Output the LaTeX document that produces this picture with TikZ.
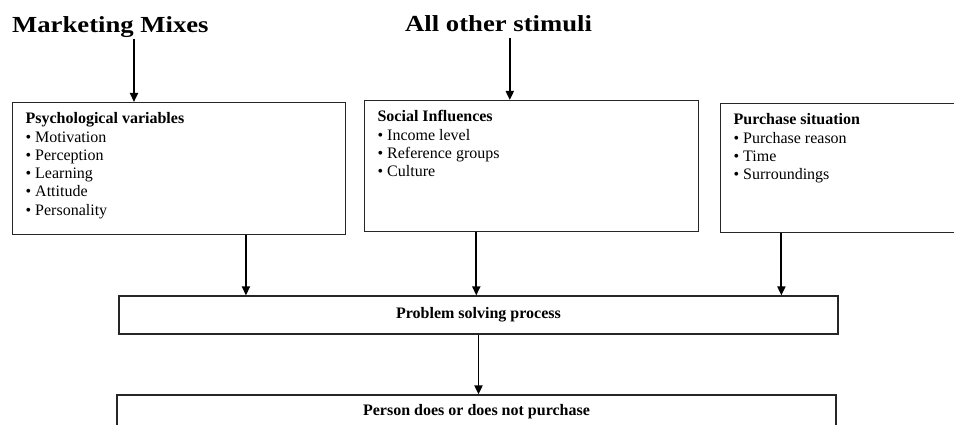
\documentclass[tikz,border=0pt]{standalone}
\usepackage{fontspec}
\setmainfont{Liberation Serif}
\usepackage{graphicx}
\usetikzlibrary{arrows.meta,calc}
\tikzset{
  catbox/.style  = {rectangle, draw=black!85, line width=1.2pt, anchor=north west,
                    inner xsep=13pt, inner ysep=10pt, font=\fontsize{16}{18.3}\selectfont},
  procbox/.style = {rectangle, draw=black!85, line width=1.2pt, inner sep=0pt,
                    minimum width=719pt, font=\bfseries\fontsize{16}{19}\selectfont},
  stim/.style    = {inner sep=0pt, anchor=base west, text depth=6pt,
                    font=\bfseries\fontsize{23}{27}\selectfont},
  ar/.style      = {-{Triangle[length=9pt,width=8pt]}, draw=black, line width=1.8pt}
}
\newcommand{\catbody}[3]{\parbox[t][#2][t]{#1}{#3}}

\begin{document}
\begin{tikzpicture}[x=1pt,y=-1pt]
    \useasboundingbox (0,0) rectangle (954,425);
    \clip (0,0) rectangle (954,425);
    \node[stim] (mkt) at (12,33) {\scalebox{1.16}[1]{Marketing Mixes}};
    \node[stim] (other) at (405,32) {\scalebox{1.16}[1]{All other stimuli}};
    \node[catbox] (psych) at (12,102) {\catbody{307pt}{112pt}{\textbf{Psychological variables}\\
      \textbullet\ Motivation\\ \textbullet\ Perception\\ \textbullet\ Learning\\
      \textbullet\ Attitude\\ \textbullet\ Personality}};
    \node[catbox] (social) at (364,100) {\catbody{308pt}{111pt}{\textbf{Social Influences}\\
      \textbullet\ Income level\\ \textbullet\ Reference groups\\ \textbullet\ Culture}};
    \node[catbox] (situ) at (720,103) {\catbody{234pt}{109pt}{\textbf{Purchase situation}\\
      \textbullet\ Purchase reason\\ \textbullet\ Time\\ \textbullet\ Surroundings}};
    \node[procbox, minimum height=38pt] (proc) at (478.5,315) {Problem solving process};
    \node[procbox, minimum height=34pt] (person) at (476.5,412) {Person does or does not purchase};
    % arrow feet
    \coordinate (mktfoot) at ($(mkt.south west)!0.62!(mkt.south east)$);
    \coordinate (otherfoot) at ($(other.south west)!0.56!(other.south east)$);
    \coordinate (psychfoot) at ($(psych.south west)!0.70!(psych.south east)$);
    \coordinate (socialfoot) at ($(social.south west)!0.335!(social.south east)$);
    \coordinate (situfoot) at ($(situ.south west)!0.235!(situ.south east)$);
    \draw[ar] (mktfoot) -- (mktfoot |- psych.north);
    \draw[ar] (otherfoot) -- (otherfoot |- social.north);
    \draw[ar] (psychfoot) -- (psychfoot |- proc.north);
    \draw[ar] (socialfoot) -- (socialfoot |- proc.north);
    \draw[ar] (situfoot) -- (situfoot |- proc.north);
    \draw[ar] (proc.south) -- (proc.south |- person.north);
\end{tikzpicture}
\end{document}
